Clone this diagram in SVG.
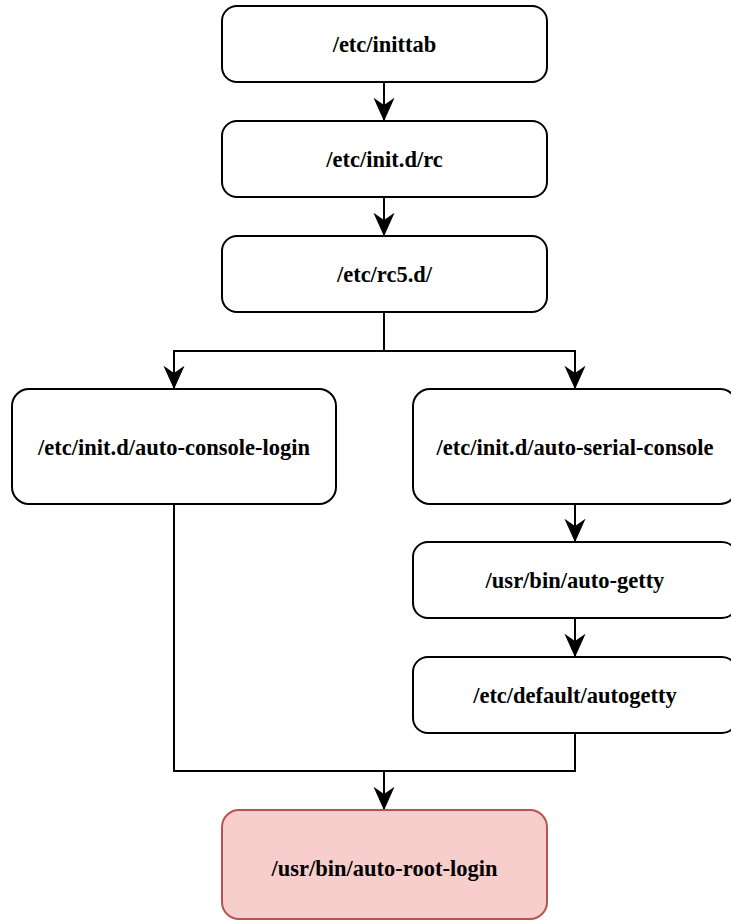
<svg xmlns="http://www.w3.org/2000/svg" width="731" height="921" viewBox="0 0 731 921">
<style>
.box{fill:#ffffff;stroke:#000000;stroke-width:2}
.hot{fill:#f8cecc;stroke:#b85450;stroke-width:2}
.lbl{font-family:"Liberation Serif","Times New Roman",serif;font-weight:bold;font-size:22.5px;fill:#000000;text-anchor:middle;dominant-baseline:central}
.edge{fill:none;stroke:#000000;stroke-width:2}
</style>
<defs>
<marker id="arr" markerUnits="userSpaceOnUse" markerWidth="24" markerHeight="24" viewBox="-20 -10 22 20" refX="0" refY="0" orient="auto">
<path d="M0,0 L-19,-8.5 L-13,0 L-19,8.5 Z" fill="#000000" stroke="#000000" stroke-width="1"/>
</marker>
</defs>
<rect width="731" height="921" fill="#ffffff"/>
<g id="connectors">
<path class="edge" d="M384,82 L384,120" marker-end="url(#arr)"/>
<path class="edge" d="M384,197 L384,235" marker-end="url(#arr)"/>
<path class="edge" d="M384,312 L384,351 L174,351 L174,388" marker-end="url(#arr)"/>
<path class="edge" d="M384,351 L575,351 L575,388" marker-end="url(#arr)"/>
<path class="edge" d="M575,504 L575,541" marker-end="url(#arr)"/>
<path class="edge" d="M575,618 L575,656" marker-end="url(#arr)"/>
<path class="edge" d="M174,504 L174,771 L384,771 L384,809" marker-end="url(#arr)"/>
<path class="edge" d="M575,733 L575,771 L384,771"/>
</g>
<g id="n-inittab">
<rect class="box" x="222" y="6" width="325" height="76" rx="15"/>
<text class="lbl" x="384.5" y="44">/etc/inittab</text>
</g>
<g id="n-rc">
<rect class="box" x="222" y="121" width="325" height="76" rx="15"/>
<text class="lbl" x="384.5" y="159">/etc/init.d/rc</text>
</g>
<g id="n-rc5">
<rect class="box" x="222" y="236" width="325" height="76" rx="15"/>
<text class="lbl" x="384.5" y="274">/etc/rc5.d/</text>
</g>
<g id="n-console-login">
<rect class="box" x="12" y="389" width="324" height="115" rx="17"/>
<text class="lbl" x="174" y="447">/etc/init.d/auto-console-login</text>
</g>
<g id="n-serial-console">
<rect class="box" x="413" y="389" width="324" height="115" rx="17"/>
<text class="lbl" x="575" y="447">/etc/init.d/auto-serial-console</text>
</g>
<g id="n-getty">
<rect class="box" x="413" y="542" width="324" height="76" rx="15"/>
<text class="lbl" x="575" y="580">/usr/bin/auto-getty</text>
</g>
<g id="n-autogetty">
<rect class="box" x="413" y="657" width="324" height="76" rx="15"/>
<text class="lbl" x="575" y="695">/etc/default/autogetty</text>
</g>
<g id="n-root-login">
<rect class="hot" x="222" y="810" width="325" height="109" rx="17"/>
<text class="lbl" x="384.5" y="868">/usr/bin/auto-root-login</text>
</g>
</svg>
